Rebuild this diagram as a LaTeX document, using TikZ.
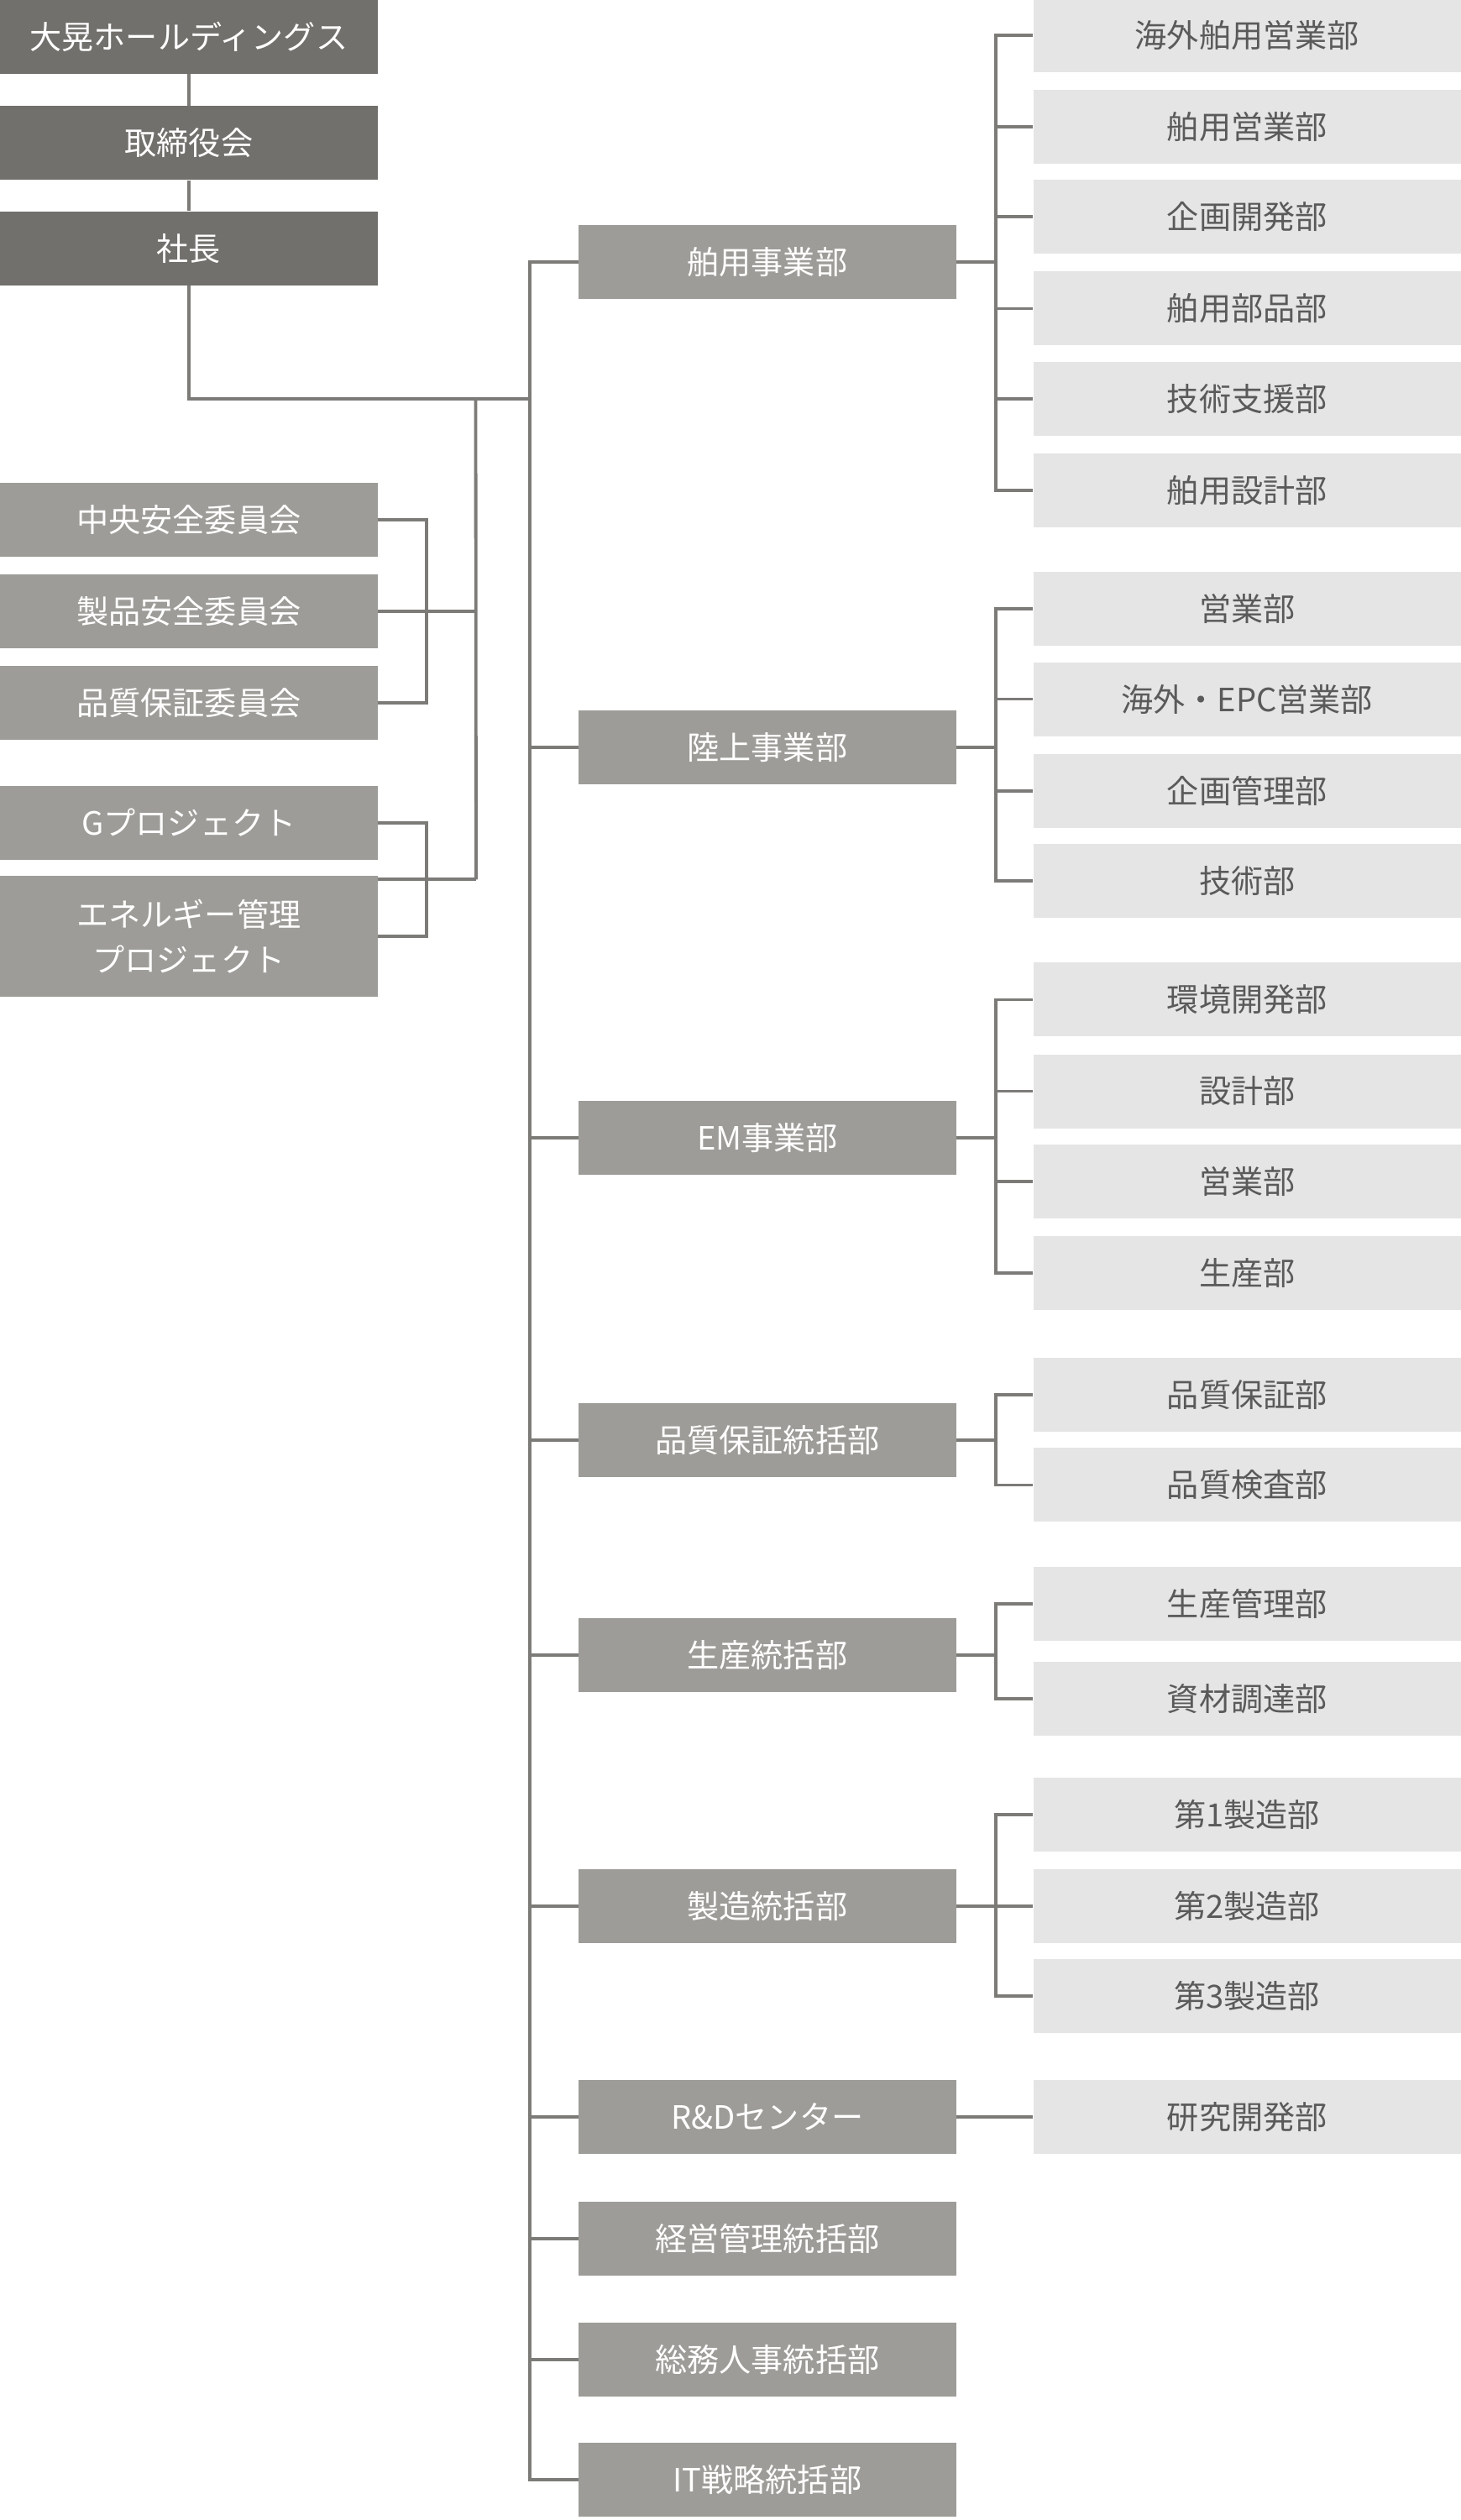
\documentclass[tikz,border=0pt]{standalone}
\usepackage{fontspec}
\setmainfont{Noto Sans CJK JP}
\usetikzlibrary{calc}
\definecolor{topgray}{HTML}{72706C}
\definecolor{midgray}{HTML}{9D9C98}
\definecolor{subgray}{HTML}{E5E5E5}
\definecolor{subtext}{HTML}{5A5A5A}
\definecolor{linegray}{HTML}{7C7B78}
\tikzset{
  box/.style={minimum width=7.05cm, minimum height=1.38cm, inner sep=0pt,
    font=\fontsize{17}{24}\selectfont, align=center},
  topbox/.style={box, fill=topgray, text=white},
  midbox/.style={box, fill=midgray, text=white},
  subbox/.style={box, minimum width=7.98cm, fill=subgray, text=subtext},
  link/.style={draw=linegray, line width=1.7pt}
}
\begin{document}
\begin{tikzpicture}[x=0.03cm, y=-0.03cm]
\useasboundingbox (0,0) rectangle (909,1568);

% top chain
\node[topbox] (hd) at (117.5,23) {大晃ホールディングス};
\node[topbox] (board) at (117.5,89) {取締役会};
\node[topbox] (ceo) at (117.5,154.5) {社長};
\coordinate (jc) at (330,248);
\coordinate (js) at (296,248);
\draw[link] (hd) -- (board);
\draw[link] (board) -- (ceo);
\draw[link] (ceo.south) |- (jc);

% committees and projects
\node[midbox] (c1) at (117.5,323.5) {中央安全委員会};
\node[midbox] (c2) at (117.5,380.5) {製品安全委員会};
\node[midbox] (c3) at (117.5,437.5) {品質保証委員会};
\node[midbox] (p1) at (117.5,512) {Gプロジェクト};
\node[midbox, minimum height=2.25cm] (p2) at (117.5,582.5) {エネルギー管理\\プロジェクト};
\draw[link] (c1.east) -- ++(30,0) |- (c3.east);
\draw[link] (c2.east) -- ++(61,0) coordinate (vc);
\draw[link] (p1.east) -- ++(30,0) |- (p2.east);
\draw[link] ($(p1.east)!0.5!(p2.east)$) -- ++(61,0) coordinate (vp);
\draw[link] (vp) -- (js);

% divisions
\foreach \n/\y/\t in {m1/163/舶用事業部, m2/465/陸上事業部, m3/708/EM事業部,
    m4/896/品質保証統括部, m5/1030/生産統括部, m6/1186/製造統括部,
    m7/1317/R\&Dセンター, m8/1393/経営管理統括部, m9/1468/総務人事統括部,
    m10/1543/IT戦略統括部}
  \node[midbox] (\n) at (477.5,\y) {\t};
\draw[link] (m1.west) -- ++(-30,0) |- (m10.west);
\foreach \n in {m2,m3,m4,m5,m6,m7,m8,m9}
  \draw[link] (\n.west) -- ++(-30,0);

% departments
\foreach \n/\p/\y/\t in {
    s1/m1/22/海外舶用営業部, s2/m1/79/舶用営業部, s3/m1/135/企画開発部,
    s4/m1/192/舶用部品部, s5/m1/248/技術支援部, s6/m1/305/舶用設計部,
    s7/m2/379/営業部, s8/m2/435/海外・EPC営業部, s9/m2/492/企画管理部, s10/m2/548/技術部,
    s11/m3/622/環境開発部, s12/m3/679/設計部, s13/m3/735/営業部, s14/m3/792/生産部,
    s15/m4/868/品質保証部, s16/m4/924/品質検査部,
    s17/m5/998/生産管理部, s18/m5/1057/資材調達部,
    s19/m6/1129/第1製造部, s20/m6/1186/第2製造部, s21/m6/1242/第3製造部}
{
  \node[subbox] (\n) at (776,\y) {\t};
  \draw[link] (\n.west) -- ++(-23,0) |- (\p.east);
}
\node[subbox] (s22) at (776,1317) {研究開発部};
\draw[link] (m7) -- (s22);
\end{tikzpicture}
\end{document}
